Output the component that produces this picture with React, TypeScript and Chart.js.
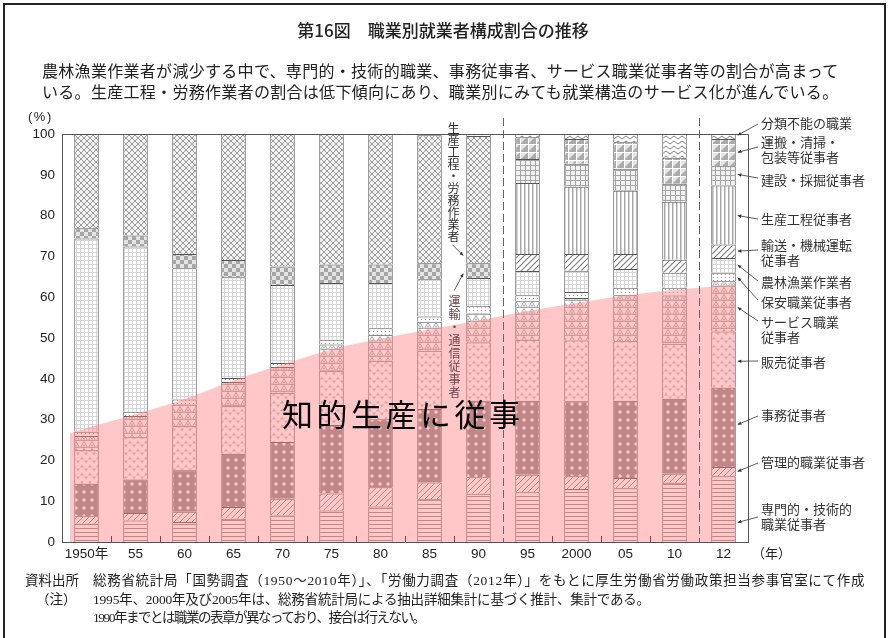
import React, { useEffect, useRef } from "react";
import { Chart, registerables } from "chart.js";
Chart.register(...registerables);

// ---------- data ----------
const years = ["1950年", "55", "60", "65", "70", "75", "80", "85", "90", "95", "2000", "05", "10", "12"];
const senmon = [4.5, 5.3, 4.9, 5.7, 6.5, 7.7, 8.7, 10.5, 11.8, 12.2, 13.0, 13.2, 14.5, 16.1];
const kanri = [1.8, 1.8, 2.5, 2.9, 4.1, 4.2, 4.7, 4.1, 4.1, 4.3, 3.1, 2.5, 2.2, 2.3];
const jimu = [8.0, 8.2, 10.2, 13.0, 13.9, 16.8, 16.7, 18.0, 18.7, 18.1, 18.4, 18.9, 18.4, 19.4];
const hanbai = [8.2, 10.4, 10.8, 11.7, 12.1, 13.3, 14.3, 14.3, 14.3, 15.0, 14.9, 14.6, 13.5, 13.8];
const service = [3.5, 5.2, 5.3, 5.9, 6.3, 6.4, 6.4, 7.1, 7.1, 9.4, 10.4, 11.3, 11.8, 12.3];
const hoan = [1.0, 1.0, 1.2, 1.0, 1.0, 1.2, 1.6, 1.3, 1.8, 1.5, 1.5, 1.8, 1.9, 2.1];
const nourin = [47.4, 40.5, 32.2, 24.7, 19.1, 13.9, 11.1, 9.1, 6.9, 5.9, 5.2, 4.6, 3.7, 3.6];
const unyuTsushin = [2.5, 2.7, 3.5, 4.2, 4.5, 4.5, 4.5, 3.9, 3.6, null, null, null, null, null];
const yuso = [null, null, null, null, null, null, null, null, null, 4.2, 4.1, 3.7, 3.2, 3.3];
const seisanRomu = [23.1, 24.9, 29.4, 30.9, 32.5, 32.0, 32.0, 31.4, 31.2, null, null, null, null, null];
const seisan = [null, null, null, null, null, null, null, null, null, 17.4, 16.5, 15.5, 14.2, 14.5];
const kensetsu = [null, null, null, null, null, null, null, null, null, 5.9, 5.6, 5.4, 4.4, 4.7];
const unpan = [null, null, null, null, null, null, null, null, null, 5.3, 6.1, 6.5, 6.4, 6.7];
const fumei = [null, null, null, null, null, null, null, 0.3, 0.5, 0.8, 1.2, 2.0, 5.8, 1.2];

// shaded "knowledge production" band (x in category-index units)
const overlayX = [-0.34, 0, 1, 2, 3, 4, 5, 6, 7, 8, 9, 10, 11, 12, 13, 13.24];
const overlayY = [26.6, 27.9, 31.3, 35.0, 39.6, 43.5, 47.2, 49.8, 52.1, 54.3, 56.6, 58.6, 60.4, 61.8, 62.8, 63.0];

const yMax = 100;
const yStep = 10;

// ---------- annotation layout ----------
const legendItems = [
  { text: ["分類不能の職業"], tip: 99.7, ty: 123, ey: 124 },
  { text: ["運搬・清掃・", "包装等従事者"], tip: 95.5, ty: 142, ey: 147 },
  { text: ["建設・採掘従事者"], tip: 90.1, ty: 180, ey: 178 },
  { text: ["生産工程従事者"], tip: 80.0, ty: 219, ey: 219 },
  { text: ["輸送・機械運転", "従事者"], tip: 71.3, ty: 245, ey: 250 },
  { text: ["農林漁業作業者"], tip: 67.9, ty: 282, ey: 281 },
  { text: ["保安職業従事者"], tip: 64.8, ty: 301.5, ey: 300 },
  { text: ["サービス職業", "従事者"], tip: 57.5, ty: 322, ey: 321 },
  { text: ["販売従事者"], tip: 44.3, ty: 361.5, ey: 361 },
  { text: ["事務従事者"], tip: 28.8, ty: 415, ey: 416 },
  { text: ["管理的職業従事者"], tip: 17.3, ty: 462, ey: 463 },
  { text: ["専門的・技術的", "職業従事者"], tip: 4.8, ty: 509, ey: 517 },
];

function makePattern(w: number, h: number, draw: (c: CanvasRenderingContext2D) => void) {
  const cv = document.createElement("canvas");
  cv.width = w;
  cv.height = h;
  const c = cv.getContext("2d")!;
  draw(c);
  return c.createPattern(cv, "repeat")!;
}

function buildPatterns() {
  const diag = (bg: string, fg: string, s: number, lw: number) =>
    makePattern(s, s, (c) => {
      c.fillStyle = bg; c.fillRect(0, 0, s, s);
      c.strokeStyle = fg; c.lineWidth = lw;
      c.beginPath();
      c.moveTo(0, s); c.lineTo(s, 0);
      c.moveTo(-1, 1); c.lineTo(1, -1);
      c.moveTo(s - 1, s + 1); c.lineTo(s + 1, s - 1);
      c.stroke();
    });
  return {
    senmon: makePattern(4, 4, (c) => {
      c.fillStyle = "#fff"; c.fillRect(0, 0, 4, 4);
      c.fillStyle = "#8c8c8c"; c.fillRect(0, 0, 4, 1);
    }),
    kanri: diag("#fff", "#8a8a8a", 6, 1),
    jimu: makePattern(8, 8, (c) => {
      c.fillStyle = "#8a8a8a"; c.fillRect(0, 0, 8, 8);
      c.fillStyle = "#fff"; c.beginPath(); c.arc(4, 4, 1.7, 0, Math.PI * 2); c.fill();
    }),
    hanbai: makePattern(8, 8, (c) => {
      c.fillStyle = "#fff"; c.fillRect(0, 0, 8, 8);
      c.fillStyle = "#bdbdbd";
      c.beginPath(); c.moveTo(2, 0.5); c.lineTo(4, 3.5); c.lineTo(0, 3.5); c.closePath(); c.fill();
      c.beginPath(); c.moveTo(4, 4.5); c.lineTo(8, 4.5); c.lineTo(6, 7.5); c.closePath(); c.fill();
    }),
    service: makePattern(8, 7, (c) => {
      c.fillStyle = "#fff"; c.fillRect(0, 0, 8, 7);
      c.strokeStyle = "#9a9a9a"; c.lineWidth = 0.9;
      c.beginPath(); c.moveTo(4, 0.5); c.lineTo(7.5, 6.5); c.lineTo(0.5, 6.5); c.closePath(); c.stroke();
      c.fillStyle = "#b0b0b0";
      c.beginPath(); c.moveTo(4, 3); c.lineTo(5.5, 5.5); c.lineTo(2.5, 5.5); c.closePath(); c.fill();
    }),
    hoan: makePattern(4, 3, (c) => {
      c.fillStyle = "#fff"; c.fillRect(0, 0, 4, 3);
      c.fillStyle = "#9a9a9a"; c.fillRect(1, 1, 1, 1);
    }),
    nourin: makePattern(4, 4, (c) => {
      c.fillStyle = "#fff"; c.fillRect(0, 0, 4, 4);
      c.fillStyle = "#d6d6d6"; c.fillRect(0, 0, 4, 1); c.fillRect(0, 0, 1, 4);
    }),
    unyuTsushin: makePattern(8, 8, (c) => {
      c.fillStyle = "#e4e4e4"; c.fillRect(0, 0, 8, 8);
      c.fillStyle = "#a6a6a6"; c.fillRect(0, 0, 4, 4); c.fillRect(4, 4, 4, 4);
    }),
    seisanRomu: makePattern(6, 6, (c) => {
      c.fillStyle = "#f2f2f2"; c.fillRect(0, 0, 6, 6);
      c.strokeStyle = "#9a9a9a"; c.lineWidth = 1;
      c.beginPath(); c.moveTo(0, 0); c.lineTo(6, 6); c.moveTo(0, 6); c.lineTo(6, 0); c.stroke();
    }),
    yuso: diag("#fff", "#7a7a7a", 6, 1.1),
    seisan: makePattern(4, 4, (c) => {
      c.fillStyle = "#fff"; c.fillRect(0, 0, 4, 4);
      c.fillStyle = "#a8a8a8"; c.fillRect(0, 0, 1.5, 4);
    }),
    kensetsu: makePattern(5, 5, (c) => {
      c.fillStyle = "#a4a4a4"; c.fillRect(0, 0, 5, 5);
      c.fillStyle = "#f2f2f2"; c.fillRect(1, 1, 4, 4);
    }),
    unpan: makePattern(8, 8, (c) => {
      c.fillStyle = "#e6e6e6"; c.fillRect(0, 0, 8, 8);
      c.fillStyle = "#ababab";
      c.beginPath(); c.moveTo(0, 8); c.lineTo(8, 0); c.lineTo(8, 8); c.closePath(); c.fill();
      c.fillStyle = "#fff"; c.fillRect(0, 0, 8, 1); c.fillRect(0, 0, 1, 8);
    }),
    fumei: makePattern(8, 5, (c) => {
      c.fillStyle = "#fff"; c.fillRect(0, 0, 8, 5);
      c.strokeStyle = "#808080"; c.lineWidth = 1;
      c.beginPath(); c.moveTo(0, 2.5); c.quadraticCurveTo(2, -0.5, 4, 2.5); c.quadraticCurveTo(6, 5.5, 8, 2.5); c.stroke();
    }),
  };
}

function arrowHead(ctx: CanvasRenderingContext2D, fx: number, fy: number, tx: number, ty: number, size: number) {
  const ang = Math.atan2(ty - fy, tx - fx);
  ctx.beginPath();
  ctx.moveTo(tx, ty);
  ctx.lineTo(tx - size * Math.cos(ang - 0.45), ty - size * Math.sin(ang - 0.45));
  ctx.lineTo(tx - size * Math.cos(ang + 0.45), ty - size * Math.sin(ang + 0.45));
  ctx.closePath();
  ctx.fill();
}

const decorPlugin = {
  id: "decor",
  afterDraw(chart: any) {
    const { ctx, chartArea: a, scales } = chart;
    const xs = scales.x;
    const ys = scales.y;
    const px = (v: number) => Math.round(v) + 0.5;
    ctx.save();
    ctx.strokeStyle = "#555";
    ctx.lineWidth = 1;
    // frame top + right
    ctx.beginPath();
    ctx.moveTo(a.left, px(a.top));
    ctx.lineTo(px(a.right), px(a.top));
    ctx.lineTo(px(a.right), a.bottom);
    ctx.stroke();
    // boundary ticks + dashed separators
    for (let i = 0; i < years.length - 1; i++) {
      const xb = (xs.getPixelForValue(i) + xs.getPixelForValue(i + 1)) / 2;
      if (i === 8 || i === 12) {
        ctx.save();
        ctx.setLineDash([8, 4]);
        ctx.strokeStyle = "#666";
        ctx.beginPath();
        ctx.moveTo(px(xb), 118);
        ctx.lineTo(px(xb), a.bottom);
        ctx.stroke();
        ctx.restore();
      } else {
        ctx.beginPath();
        ctx.moveTo(px(xb), a.bottom);
        ctx.lineTo(px(xb), a.bottom - 6);
        ctx.stroke();
      }
    }
    // legend leader lines
    const meta = chart.getDatasetMeta(0);
    const last = meta.data[years.length - 1];
    const tipX = last.x + last.width / 2 + 2;
    ctx.strokeStyle = "#333";
    ctx.fillStyle = "#333";
    ctx.lineWidth = 0.8;
    legendItems.forEach((it) => {
      const ty = ys.getPixelForValue(it.tip);
      const ex = 758;
      ctx.beginPath();
      ctx.moveTo(ex, it.ey);
      ctx.lineTo(tipX, ty);
      ctx.stroke();
      arrowHead(ctx, ex, it.ey, tipX, ty, 4);
    });
    // vertical annotation arrows at the 1990 bar
    const b90 = meta.data[8];
    const lx = b90.x - b90.width / 2 - 3;
    const t1 = ys.getPixelForValue(70.2);
    ctx.beginPath(); ctx.moveTo(lx - 11, t1 - 11); ctx.lineTo(lx, t1); ctx.stroke();
    arrowHead(ctx, lx - 11, t1 - 11, lx, t1, 4);
    const t2 = ys.getPixelForValue(65.8);
    ctx.beginPath(); ctx.moveTo(lx - 9, t2 + 17); ctx.lineTo(lx, t2); ctx.stroke();
    arrowHead(ctx, lx - 9, t2 + 17, lx, t2, 4);
    ctx.restore();
  },
};

const T = ({ x, y, size, children, style }: any) => (
  <div
    style={{
      position: "absolute",
      left: x,
      top: y - size * 0.6,
      fontSize: size,
      lineHeight: `${size * 1.2}px`,
      whiteSpace: "nowrap",
      ...style,
    }}
  >
    {children}
  </div>
);

const serif = "'Liberation Serif', 'Noto Sans CJK JP', serif";

export default function App() {
  const ref = useRef<HTMLCanvasElement>(null);
  useEffect(() => {
    const p = buildPatterns();
    const bar = (label: string, data: (number | null)[], bg: CanvasPattern) => ({
      type: "bar" as const,
      label,
      data,
      backgroundColor: bg,
      borderColor: "#555",
      borderWidth: { top: 1, left: 1, right: 1, bottom: 0 },
      borderSkipped: false,
      stack: "occ",
      grouped: false,
      order: 2,
      barPercentage: 0.5,
      categoryPercentage: 1,
      xAxisID: "x",
      yAxisID: "y",
    });
    const chart = new Chart(ref.current!, {
      type: "bar",
      data: {
        labels: years,
        datasets: [
          bar("専門的・技術的職業従事者", senmon, p.senmon),
          bar("管理的職業従事者", kanri, p.kanri),
          bar("事務従事者", jimu, p.jimu),
          bar("販売従事者", hanbai, p.hanbai),
          bar("サービス職業従事者", service, p.service),
          bar("保安職業従事者", hoan, p.hoan),
          bar("農林漁業作業者", nourin, p.nourin),
          bar("運輸・通信従事者", unyuTsushin, p.unyuTsushin),
          bar("輸送・機械運転従事者", yuso, p.yuso),
          bar("生産工程・労務作業者", seisanRomu, p.seisanRomu),
          bar("生産工程従事者", seisan, p.seisan),
          bar("建設・採掘従事者", kensetsu, p.kensetsu),
          bar("運搬・清掃・包装等従事者", unpan, p.unpan),
          bar("分類不能の職業", fumei, p.fumei),
          {
            type: "line" as const,
            label: "知的生産に従事",
            data: overlayX.map((x, i) => ({ x, y: overlayY[i] })),
            xAxisID: "x2",
            yAxisID: "y",
            stack: "overlay",
            order: 0,
            fill: "origin",
            backgroundColor: "rgba(255,130,130,0.45)",
            borderWidth: 0,
            borderColor: "rgba(0,0,0,0)",
            pointRadius: 0,
            cubicInterpolationMode: "monotone",
          } as any,
        ],
      },
      options: {
        animation: false,
        responsive: false,
        maintainAspectRatio: false,
        layout: { padding: { top: 134, right: 141, left: 0, bottom: 0 } },
        plugins: { legend: { display: false }, tooltip: { enabled: false } },
        scales: {
          x: {
            type: "category",
            stacked: true,
            offset: true,
            grid: { display: false, drawTicks: false },
            border: { display: true, color: "#555" },
            ticks: {
              autoSkip: false,
              maxRotation: 0,
              padding: 4,
              color: "#222",
              font: { family: "'Liberation Sans', 'Noto Sans CJK JP', sans-serif", size: 13.5 },
            },
            afterFit: (s: any) => { s.height = 96; },
          },
          x2: {
            type: "linear",
            bounds: "data",
            offset: false,
            grid: { offset: false, display: false },
            min: -0.5,
            max: 13.5,
            display: false,
          },
          y: {
            stacked: true,
            min: 0,
            max: yMax,
            grid: { display: false, drawTicks: false },
            border: { display: true, color: "#555" },
            ticks: {
              stepSize: yStep,
              padding: 7,
              color: "#222",
              font: { family: "'Liberation Sans', sans-serif", size: 13.5 },
            },
            afterFit: (s: any) => { s.width = 62; },
          },
        },
      },
      plugins: [decorPlugin],
    } as any);
    return () => chart.destroy();
  }, []);

  return (
    <div
      style={{
        position: "absolute",
        left: 0,
        top: 0,
        width: 889,
        height: 638,
        background: "#fff",
        overflow: "hidden",
        fontFamily: "'Noto Sans CJK JP', sans-serif",
        color: "#222",
      }}
    >
      <div style={{ position: "absolute", left: 3, top: 3, width: 879, height: 700, border: "2px solid #222" }} />
      <canvas ref={ref} width={889} height={638} style={{ position: "absolute", left: 0, top: 0, width: 889, height: 638 }} />
      <div style={{ position: "absolute", left: 0, top: 30 - 10.2, width: 886, textAlign: "center", fontSize: 17, lineHeight: "20.4px", fontWeight: 500 }}>
        第16図　職業別就業者構成割合の推移
      </div>
      <T x={42} y={71} size={16} style={{ letterSpacing: 0.3 }}>
        農林漁業作業者が減少する中で、専門的・技術的職業、事務従事者、サービス職業従事者等の割合が高まって
      </T>
      <T x={42} y={92} size={16} style={{ letterSpacing: 0.3 }}>
        いる。生産工程・労務作業者の割合は低下傾向にあり、職業別にみても就業構造のサービス化が進んでいる。
      </T>
      <T x={28} y={117} size={13} style={{ fontFamily: "'Liberation Sans', sans-serif", letterSpacing: 1.5 }}>(%)</T>
      <T x={752} y={553} size={13}>（年）</T>

      {legendItems.map((it, i) =>
        it.text.map((line, j) => (
          <T key={`${i}-${j}`} x={761} y={it.ty + j * 15} size={13} style={{ color: "#333" }}>
            {line}
          </T>
        ))
      )}

      <div style={{ position: "absolute", left: 447, top: 122, fontSize: 12, lineHeight: "12px", writingMode: "vertical-rl", color: "#333" }}>
        生産工程・労務作業者
      </div>
      <div style={{ position: "absolute", left: 448, top: 295, fontSize: 12, lineHeight: "12px", letterSpacing: 1, writingMode: "vertical-rl", color: "#6a4a4a" }}>
        運輸・通信従事者
      </div>

      <T x={282} y={416} size={31} style={{ fontFamily: serif, letterSpacing: 3.5, color: "#000" }}>
        知的生産に従事
      </T>

      <T x={25} y={581} size={13.5} style={{ fontFamily: serif }}>資料出所</T>
      <T x={93} y={581} size={13.5} style={{ fontFamily: serif, letterSpacing: 0.7 }}>
        総務省統計局「国勢調査（1950～2010年）」、「労働力調査（2012年）」をもとに厚生労働省労働政策担当参事官室にて作成
      </T>
      <T x={36} y={600} size={13.5} style={{ fontFamily: serif }}>（注）</T>
      <T x={93} y={600} size={13.5} style={{ fontFamily: serif, letterSpacing: -0.2 }}>
        1995年、2000年及び2005年は、総務省統計局による抽出詳細集計に基づく推計、集計である。
      </T>
      <T x={93} y={618} size={13.5} style={{ fontFamily: serif, letterSpacing: -1.5 }}>
        1990年までとは職業の表章が異なっており、接合は行えない。
      </T>
    </div>
  );
}
